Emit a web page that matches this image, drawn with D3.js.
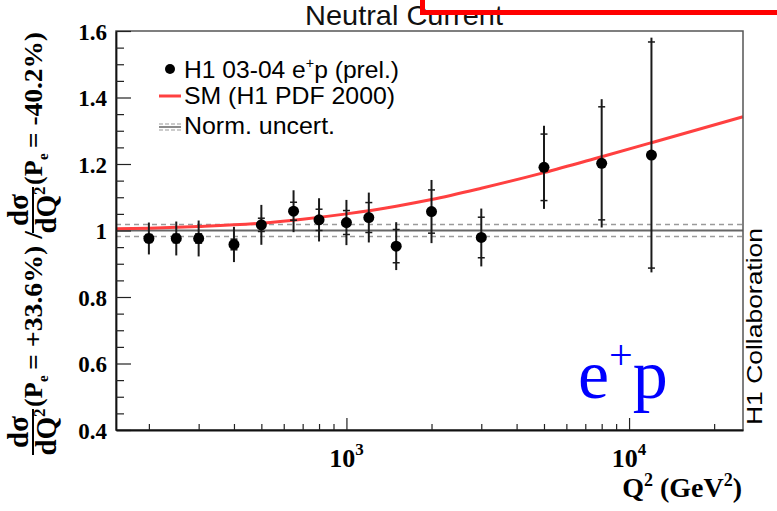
<!DOCTYPE html>
<html><head><meta charset="utf-8">
<script src="https://cdn.jsdelivr.net/npm/d3@7"></script>
<style>body{margin:0;background:#fff} svg{display:block}</style>
</head><body>
<svg id="c" width="777" height="511"></svg>
<script>
// ---- data ----
const q2 = [200, 250, 300, 400, 500, 650, 800, 1000, 1200, 1500, 2000, 3000, 5000, 8000, 12000];
const ratio = [0.976, 0.976, 0.976, 0.958, 1.017, 1.058, 1.032, 1.024, 1.039, 0.953, 1.057, 0.979, 1.190, 1.202, 1.227];
const totErr = [0.048, 0.051, 0.054, 0.053, 0.060, 0.063, 0.065, 0.068, 0.075, 0.072, 0.095, 0.087, 0.125, 0.193, 0.353];
const statErr = [0.012, 0.013, 0.014, 0.016, 0.020, 0.027, 0.032, 0.036, 0.045, 0.050, 0.065, 0.061, 0.100, 0.170, 0.340];
const smQ2 = [153, 200, 300, 500, 700, 1000, 1500, 2000, 3000, 5000, 8000, 12000, 25300];
const smVal = [1.005, 1.007, 1.012, 1.022, 1.034, 1.050, 1.073, 1.093, 1.127, 1.174, 1.222, 1.264, 1.342];
const normUnc = 0.018;
const yMajor = [0.4, 0.6, 0.8, 1.0, 1.2, 1.4, 1.6];
const yMajorLabels = ["0.4", "0.6", "0.8", "1", "1.2", "1.4", "1.6"];
const xMajor = [1000, 10000];
const xMajorExp = ["3", "4"];
const xMinor = [200, 300, 400, 500, 600, 700, 800, 900, 2000, 3000, 4000, 5000, 6000, 7000, 8000, 9000, 20000];

// ---- scales ----
const svg = d3.select("#c");
const L = 116, R = 743, T = 31, B = 430;
const x = d3.scaleLog().domain([153, 25300]).range([L, R]);
const y = d3.scaleLinear().domain([0.4, 1.6]).range([B, T]);
const yMinor = d3.range(0.45, 1.6, 0.05).map(v => +v.toFixed(2)).filter(v => !yMajor.some(m => Math.abs(m - v) < 1e-6));

// ---- title ----
svg.append("text").attr("x", 305).attr("y", 25).attr("font-family", "Liberation Sans").attr("font-size", 28)
  .attr("fill", "#111").attr("textLength", 198).attr("lengthAdjust", "spacingAndGlyphs").text("Neutral Current");
// red box corner drawn over the title
svg.append("path").attr("d", "M422.5,0 V12.5 H777").attr("fill", "none").attr("stroke", "#ff0000").attr("stroke-width", 5);

// ---- norm uncertainty lines ----
const plot = svg.append("g");
[1 + normUnc, 1 - normUnc].forEach(v => {
  plot.append("line").attr("x1", L).attr("x2", R).attr("y1", y(v)).attr("y2", y(v))
    .attr("stroke", "#9a9a9a").attr("stroke-width", 1.5).attr("stroke-dasharray", "5,4");
});
plot.append("line").attr("x1", L).attr("x2", R).attr("y1", y(1)).attr("y2", y(1))
  .attr("stroke", "#666").attr("stroke-width", 2);

// ---- SM curve ----
const line = d3.line().x((d, i) => x(smQ2[i])).y(d => y(d)).curve(d3.curveMonotoneX);
plot.append("path").attr("d", line(smVal)).attr("fill", "none").attr("stroke", "#ff4040").attr("stroke-width", 3);

// ---- error bars ----
q2.forEach((q, i) => {
  const cx = x(q);
  plot.append("line").attr("x1", cx).attr("x2", cx).attr("y1", y(ratio[i] - totErr[i])).attr("y2", y(ratio[i] + totErr[i]))
    .attr("stroke", "#1a1a1a").attr("stroke-width", 2);
  [ratio[i] - statErr[i], ratio[i] + statErr[i]].forEach(v => {
    plot.append("line").attr("x1", cx - 3.5).attr("x2", cx + 3.5).attr("y1", y(v)).attr("y2", y(v))
      .attr("stroke", "#1a1a1a").attr("stroke-width", 1.5);
  });
});
plot.selectAll("circle.pt").data(q2).enter().append("circle").attr("class", "pt")
  .attr("cx", d => x(d)).attr("cy", (d, i) => y(ratio[i])).attr("r", 5.5).attr("fill", "#000");

// ---- frame ----
svg.append("rect").attr("x", L).attr("y", T).attr("width", R - L).attr("height", B - T)
  .attr("fill", "none").attr("stroke", "#555").attr("stroke-width", 1.5);

// ---- axes ----
const yAx = svg.append("g").attr("transform", `translate(${L},0)`)
  .call(d3.axisLeft(y).tickValues(yMajor).tickSizeInner(-15).tickSizeOuter(0).tickPadding(9)
    .tickFormat((d, i) => yMajorLabels[i]));
yAx.selectAll("text").attr("font-family", "Liberation Serif").attr("font-weight", "bold").attr("font-size", 23)
  .attr("fill", "#000").attr("dy", "0.36em");
const yMin = svg.append("g").attr("transform", `translate(${L},0)`)
  .call(d3.axisLeft(y).tickValues(yMinor).tickSizeInner(-8).tickSizeOuter(0).tickFormat(""));
yMin.select(".domain").remove();

const xAx = svg.append("g").attr("transform", `translate(0,${B})`)
  .call(d3.axisBottom(x).tickValues(xMajor).tickSizeInner(-12).tickSizeOuter(0).tickFormat(""));
const xMin = svg.append("g").attr("transform", `translate(0,${B})`)
  .call(d3.axisBottom(x).tickValues(xMinor).tickSizeInner(-6).tickSizeOuter(0).tickFormat(""));
xMin.select(".domain").remove();
svg.selectAll(".domain").attr("stroke", "#111").attr("stroke-width", 1.8);
svg.selectAll(".tick line").attr("stroke", "#222").attr("stroke-width", 1.2);

xMajor.forEach((v, i) => {
  const t = svg.append("text").attr("x", x(v)).attr("y", 467).attr("text-anchor", "middle")
    .attr("font-family", "Liberation Serif").attr("font-weight", "bold").attr("font-size", 26).attr("fill", "#000");
  t.append("tspan").text("10");
  t.append("tspan").attr("dy", -12).attr("font-size", 17).text(xMajorExp[i]);
});
const xt = svg.append("text").attr("x", 742).attr("y", 497).attr("text-anchor", "end")
  .attr("font-family", "Liberation Serif").attr("font-weight", "bold").attr("font-size", 28).attr("fill", "#000");
xt.append("tspan").text("Q");
xt.append("tspan").attr("dy", -11).attr("font-size", 18).text("2");
xt.append("tspan").attr("dy", 11).text(" (GeV");
xt.append("tspan").attr("dy", -11).attr("font-size", 18).text("2");
xt.append("tspan").attr("dy", 11).text(")");

// ---- y title ----
const yt = svg.append("g").attr("transform", "translate(42,455) rotate(-90)")
  .attr("font-family", "Liberation Serif").attr("font-weight", "bold").attr("fill", "#000");
function frac(cx) {
  yt.append("text").attr("x", cx).attr("y", -14).attr("text-anchor", "middle").attr("font-size", 29).text("dσ");
  yt.append("line").attr("x1", cx - 23).attr("x2", cx + 23).attr("y1", -9).attr("y2", -9).attr("stroke", "#000").attr("stroke-width", 2);
  const d = yt.append("text").attr("x", cx).attr("y", 14).attr("text-anchor", "middle").attr("font-size", 29);
  d.append("tspan").text("dQ");
  d.append("tspan").attr("dy", -11).attr("font-size", 17).text("2");
}
function pe(x0, rest, len) {
  yt.append("text").attr("x", x0).attr("y", 0).attr("font-size", 26).text("(P");
  yt.append("text").attr("x", x0 + 25).attr("y", 6).attr("font-size", 15).text("e");
  yt.append("text").attr("x", x0 + 37).attr("y", 0).attr("font-size", 26)
    .attr("textLength", len).attr("lengthAdjust", "spacingAndGlyphs").text(rest);
}
frac(23);
pe(48, "= +33.6%) /", 139);
frac(245);
pe(270, "= -40.2%)", 116);

// ---- right label ----
svg.append("text").attr("transform", "translate(762,425) rotate(-90)").attr("font-family", "Liberation Sans")
  .attr("font-size", 22).attr("fill", "#000").attr("textLength", 197).attr("lengthAdjust", "spacingAndGlyphs")
  .text("H1 Collaboration");

// ---- e+p label ----
const ep = svg.append("text").attr("x", 578).attr("y", 398).attr("font-family", "Liberation Serif")
  .attr("font-size", 70).attr("fill", "#0000ff");
ep.append("tspan").text("e");
ep.append("tspan").attr("dy", -29).attr("font-size", 42).text("+");
ep.append("tspan").attr("dy", 29).text("p");

// ---- legend ----
const lg = svg.append("g").attr("font-family", "Liberation Sans").attr("font-size", 24).attr("fill", "#000");
lg.append("circle").attr("cx", 170).attr("cy", 69).attr("r", 5).attr("fill", "#000");
const l1 = lg.append("text").attr("x", 184).attr("y", 78).attr("textLength", 215).attr("lengthAdjust", "spacingAndGlyphs");
l1.append("tspan").text("H1 03-04 e");
l1.append("tspan").attr("dy", -10).attr("font-size", 14).text("+");
l1.append("tspan").attr("dy", 10).text("p (prel.)");
lg.append("line").attr("x1", 159).attr("x2", 181).attr("y1", 96).attr("y2", 96).attr("stroke", "#ff4040").attr("stroke-width", 3);
lg.append("text").attr("x", 184).attr("y", 104).attr("textLength", 211).attr("lengthAdjust", "spacingAndGlyphs").text("SM (H1 PDF 2000)");
lg.append("line").attr("x1", 159).attr("x2", 181).attr("y1", 127).attr("y2", 127).attr("stroke", "#666").attr("stroke-width", 1.5);
[124, 130].forEach(v => lg.append("line").attr("x1", 159).attr("x2", 181).attr("y1", v).attr("y2", v)
  .attr("stroke", "#9a9a9a").attr("stroke-width", 1.2).attr("stroke-dasharray", "4,2"));
lg.append("text").attr("x", 184).attr("y", 134).attr("textLength", 151).attr("lengthAdjust", "spacingAndGlyphs").text("Norm. uncert.");
</script>
</body></html>
